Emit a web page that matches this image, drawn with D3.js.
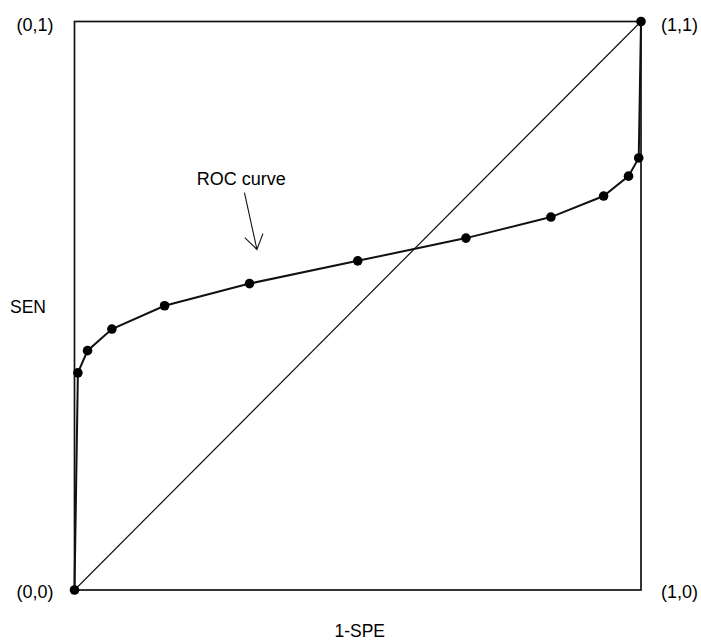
<!DOCTYPE html>
<html>
<head>
<meta charset="utf-8">
<script src="https://cdn.jsdelivr.net/npm/d3@7"></script>
<style>
  body { margin: 0; background: #fff; }
  text { font-family: "Liberation Sans", Arial, sans-serif; fill: #000; }
</style>
</head>
<body>
<div id="chart"></div>
<script>
// ROC points (1-SPE, SEN)
var fpr = [0, 0.006, 0.023, 0.066, 0.159, 0.309, 0.500, 0.691, 0.841, 0.934, 0.978, 0.996, 1]
var tpr = [0, 0.382, 0.421, 0.459, 0.500, 0.539, 0.579, 0.619, 0.656, 0.693, 0.728, 0.760, 1]
var cornerLabels = ["(0,0)", "(1,0)", "(0,1)", "(1,1)"]
var cornerX = [0, 1, 0, 1]
var cornerY = [0, 0, 1, 1]
var xTitle = "1-SPE"
var yTitle = "SEN"
var annotation = "ROC curve"

var width = 701, height = 643
var margin = {top: 21.5, right: 60, bottom: 53, left: 74.5}

var svg = d3.select('#chart')
    .append('svg')
    .attr('width', width)
    .attr('height', height)

var xScale = d3.scaleLinear().domain([0, 1]).range([margin.left, width - margin.right])
var yScale = d3.scaleLinear().domain([0, 1]).range([height - margin.bottom, margin.top])

var points = fpr.map(function(d, i) { return {x: d, y: tpr[i]} })

// frame
svg.append('rect')
    .attr('x', xScale(0))
    .attr('y', yScale(1))
    .attr('width', xScale(1) - xScale(0))
    .attr('height', yScale(0) - yScale(1))
    .attr('fill', 'none')
    .attr('stroke', '#111')
    .attr('stroke-width', 1.7)

// chance diagonal
svg.append('line')
    .attr('x1', xScale(0)).attr('y1', yScale(0))
    .attr('x2', xScale(1)).attr('y2', yScale(1))
    .attr('stroke', '#111')
    .attr('stroke-width', 1.2)

var lineGen = d3.line()
    .x(function(d) { return xScale(d.x) })
    .y(function(d) { return yScale(d.y) })

svg.append('path')
    .attr('d', lineGen(points))
    .attr('fill', 'none')
    .attr('stroke', '#111')
    .attr('stroke-width', 2)

svg.selectAll('circle.pt')
    .data(points)
    .enter().append('circle')
    .attr('class', 'pt')
    .attr('cx', function(d) { return xScale(d.x) })
    .attr('cy', function(d) { return yScale(d.y) })
    .attr('r', 4.8)
    .attr('fill', '#000')

// corner labels
svg.selectAll('text.corner')
    .data(cornerLabels)
    .enter().append('text')
    .attr('class', 'corner')
    .attr('x', function(d, i) { return cornerX[i] ? xScale(1) + 20 : xScale(0) - 58 })
    .attr('y', function(d, i) { return cornerY[i] ? yScale(1) + 9 : yScale(0) + 8 })
    .attr('font-size', 18)
    .text(function(d) { return d })

// axis titles
svg.append('text')
    .attr('x', xScale(0.5) + 2)
    .attr('y', 637)
    .attr('text-anchor', 'middle')
    .attr('font-size', 17.5)
    .text(xTitle)

svg.append('text')
    .attr('x', 10)
    .attr('y', 313)
    .attr('font-size', 17.5)
    .text(yTitle)

// annotation with arrow
svg.append('text')
    .attr('x', xScale(0.216))
    .attr('y', yScale(0.713))
    .attr('font-size', 18)
    .text(annotation)

var a0 = [xScale(0.300), yScale(0.699)]
var a1 = [xScale(0.322), yScale(0.599)]
var ang = Math.atan2(a1[1] - a0[1], a1[0] - a0[0])
var headLen = 17, headAng = 0.58
svg.append('path')
    .attr('d', 'M' + a0 + 'L' + a1 +
        'M' + [a1[0] - headLen * Math.cos(ang - headAng), a1[1] - headLen * Math.sin(ang - headAng)] + 'L' + a1 +
        'L' + [a1[0] - headLen * Math.cos(ang + headAng), a1[1] - headLen * Math.sin(ang + headAng)])
    .attr('fill', 'none')
    .attr('stroke', '#111')
    .attr('stroke-width', 1.1)
</script>
</body>
</html>
